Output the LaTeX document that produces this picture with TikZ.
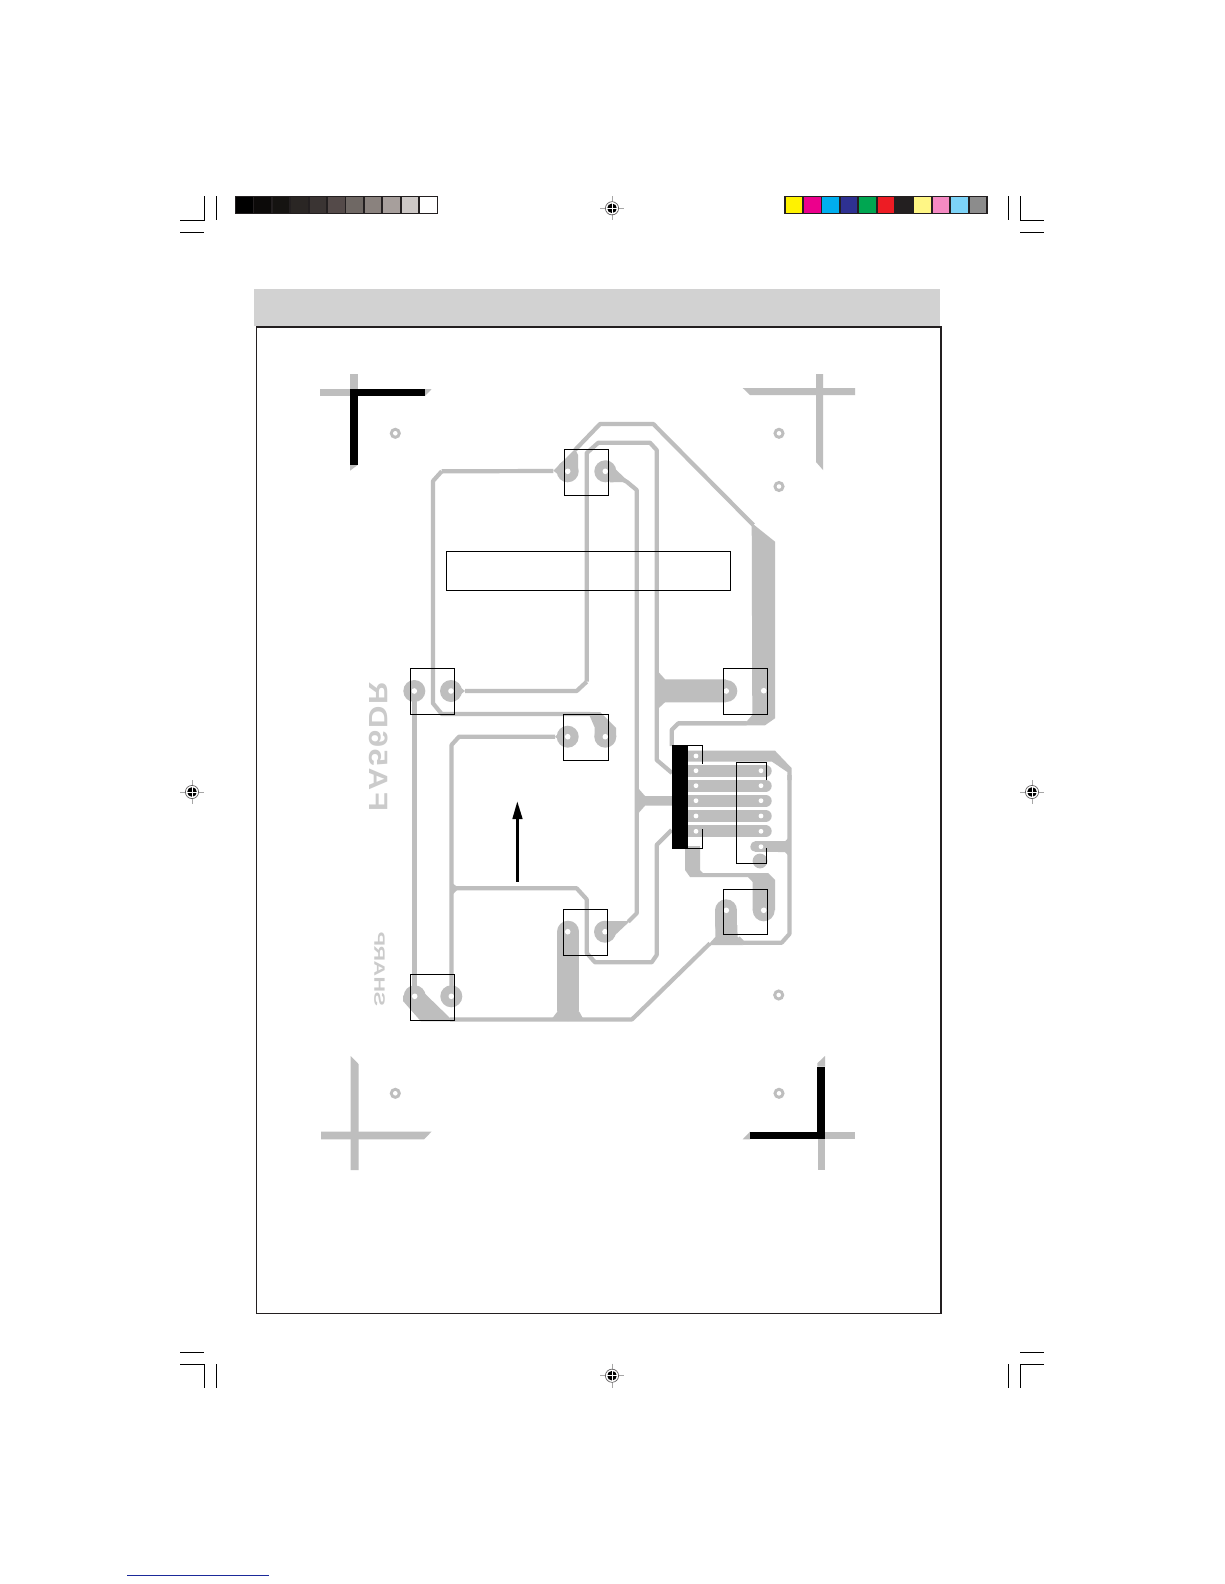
\documentclass[tikz,border=0pt]{standalone}
\usepackage{graphicx}
\usepackage{fontspec}
\setmainfont{Liberation Sans}
\definecolor{pcb}{HTML}{BEBEBE}
\definecolor{pcbtext}{HTML}{CBCBCB}
\definecolor{inkk}{HTML}{231F20}
\definecolor{bandgrey}{HTML}{D2D2D2}
\definecolor{linkblue}{HTML}{1B2A9A}
\tikzset{
  track/.style={draw=pcb,line width=4.2pt,line join=round,line cap=butt},
  fat/.style={draw=pcb,line width=#1,line cap=round},
  outline/.style={draw=black,line width=1pt},
  cropm/.style={draw=black,line width=0.9pt}
}
\newcommand{\regmark}[2]{%
  \draw[gray!70,line width=1pt] (#1-12,#2)--(#1+12,#2) (#1,#2-12)--(#1,#2+12);
  \draw[inkk!70,line width=0.7pt] (#1,#2) circle (6.6pt);
  \fill[black] (#1,#2) circle (4.8pt);
  \draw[white,line width=1pt] (#1-6,#2)--(#1+6,#2) (#1,#2-6)--(#1,#2+6);
}
\newcommand{\padat}[3]{\fill[pcb] (#1,#2) circle (#3pt);}
\newcommand{\mounth}[2]{\fill[pcb] (#1,#2) circle (5.6pt);\fill[white] (#1,#2) circle (2.3pt);}
\begin{document}
\begin{tikzpicture}[x=1pt,y=-1pt]
\useasboundingbox (0,0) rectangle (1224,1584);
\fill[white] (0,0) rectangle (1224,1584);

% header band and frame
\fill[bandgrey] (254,289) rectangle (940,326);
\draw[inkk,line width=1.4pt] (256.3,326.5) -- (941,326.5) -- (941,1313.7) -- (256.3,1313.7) -- cycle;
\draw[inkk,line width=2pt] (256,326.7) -- (942,326.7);

% crop marks
\draw[cropm] (180,220.3)--(204.3,220.3)--(204.3,196);
\draw[cropm] (180,232.3)--(204.3,232.3);
\draw[cropm] (216.7,196)--(216.7,220);
\draw[cropm] (1008.3,196)--(1008.3,220);
\draw[cropm] (1020.3,196)--(1020.3,220.3)--(1044,220.3);
\draw[cropm] (1020.3,232.3)--(1044,232.3);
\draw[cropm] (180,1352.3)--(204,1352.3);
\draw[cropm] (180,1364)--(204.3,1364)--(204.3,1388);
\draw[cropm] (216.7,1364)--(216.7,1388);
\draw[cropm] (1008.3,1364)--(1008.3,1388);
\draw[cropm] (1044,1364)--(1020.3,1364)--(1020.3,1388);
\draw[cropm] (1020.3,1352.3)--(1044,1352.3);

% registration targets
\regmark{612}{208.3}
\regmark{612}{1375.7}
\regmark{192}{792}
\regmark{1032}{792}

% grey scale strip
\fill[inkk] (235,196) rectangle (437.7,214);
\foreach \c [count=\i from 0] in {000000,0C0A09,151311,2A2624,3A3433,544A49,6F6864,8A827E,A79F9C,CDC8C6,FFFFFF}{
  \definecolor{swatchc}{HTML}{\c}
  \fill[swatchc] ({236+\i*18.4},197.2) rectangle ({236+\i*18.4+16.6},212.8);
}
% colour strip
\fill[inkk] (784,196) rectangle (988,214);
\foreach \c [count=\i from 0] in {FFF200,EC008C,00AEEF,2E3192,00A651,ED1C24,231F20,FFF685,F58AC3,7DD3F7,8C8C8C}{
  \definecolor{swatchc}{HTML}{\c}
  \fill[swatchc] ({785.6+\i*18.4},197.2) rectangle ({785.6+\i*18.4+16.6},212.8);
}

% corner marks, grey parts
\fill[pcb] (350,374) rectangle (357.7,389);
\fill[pcb] (320,388.7) rectangle (350,395.5);
\fill[pcb] (425,389)--(431.7,389)--(425,396)--cycle;
\fill[pcb] (350,465)--(357.7,465)--(350,470.7)--cycle;
\fill[pcb] (742.7,388)--(855,388)--(855,395)--(750,395)--cycle;
\fill[pcb] (816,374)--(823,374)--(823,470)--(816,462)--cycle;
\fill[pcb] (350.6,1056)--(358.5,1064)--(358.5,1170)--(350.6,1170)--cycle;
\fill[pcb] (321,1131.7)--(431.5,1131.7)--(424,1139.3)--(321,1139.3)--cycle;
\fill[pcb] (825,1131.7) rectangle (855,1139.3);
\fill[pcb] (817.5,1139.3) rectangle (825,1170);
\fill[pcb] (817.3,1063.3)--(825,1056)--(825,1066.7)--(817.3,1066.7)--cycle;
\fill[pcb] (742.7,1139.3)--(750,1131.7)--(750,1139.3)--cycle;
% corner marks, black parts
\fill[black] (350,389) rectangle (425,396);
\fill[black] (350,389) rectangle (357.7,465);
\fill[black] (750,1132.3) rectangle (825,1139.3);
\fill[black] (817.3,1066.7) rectangle (825,1139.3);

% mounting holes
\mounth{395.3}{433.3}
\mounth{779}{433.3}
\mounth{779}{486.5}
\mounth{778.7}{995}
\mounth{395.3}{1093.3}
\mounth{779}{1093.3}

% mirrored lettering
\begin{scope}[shift={(379,746.7)},cm={0,1,1,0,(0,0)},transform shape]
  \node[inner sep=0pt,text=pcbtext] (labelfa) at (0,0) {\resizebox{130pt}{18.5pt}{\bfseries F\kern0.06em A\kern0.06em 5\kern0.06em 6\kern0.06em D\kern0.06em R}};
\end{scope}
\begin{scope}[shift={(379.5,969.2)},cm={0,1,1,0,(0,0)},transform shape]
  \node[inner sep=0pt,text=pcbtext] (labelsh) at (0,0) {\resizebox{75pt}{10.5pt}{\bfseries SHARP}};
\end{scope}

% ---- copper tracks ----
% outer top track and thick right band
\draw[track] (575,450)--(600,424)--(653.3,424)--(753.3,525);
\fill[pcb] (751.7,523)--(775,541.7)--(775,718.3)--(765,725.3)--(678,725.3)--(678,721.4)--(746.7,721.4)--(752.3,715)--cycle;
\draw[track] (441.7,471.3)--(433,481)--(433,703.3)--(441.7,714)--(590,714);
\draw[track] (553.3,471)--(441.7,471.3);
\draw[track] (746.7,723.3)--(678.3,723.3)--(671.7,730)--(671.7,746);
\fill[pcb] (553.3,470.7)--(575,449)--(578,455)--(578,471)--(567.7,482)--cycle;
\fill[pcb] (588,712)--(600,712)--(616,728)--(616,737)--(594.5,737)--(594.5,727)--cycle;
% inner top track and band to pad
\draw[track] (586.7,681.7)--(586.7,453)--(598.3,442.7)--(650,442.7)--(656.7,450)--(656.7,760)--(672,773);
\draw[track] (586.7,681.7)--(576.7,691)--(465,691);
\fill[pcb] (656.7,670)--(665,679.3)--(726,679.3)--(726,702.3)--(665,702.3)--(656.7,710)--cycle;
% central track
\draw[track] (605.3,471.3)--(626.7,481.7)--(636.7,490)--(636.7,913.3)--(628.3,921.7);
\fill[pcb] (606,460.3)--(629,482)--(610,482.3)--cycle;
\fill[pcb] (608,921)--(630,921)--(608,941.7)--cycle;
\fill[pcb] (638,788)--(645,796)--(673,796)--(673,805.7)--(645,805.7)--(638,813.7)--cycle;
% left verticals
\draw[track] (414.5,691)--(414.5,996);
\draw[track] (451.5,996)--(451.5,745)--(459,736.7)--(555,736.7);
\fill[pcb] (451,882)--(459,888.3)--(451,896)--cycle;
\draw[track] (671.7,830)--(656.7,845)--(656.7,955)--(651.7,962.3)--(595,962.3)--(586.7,953)--(586.7,899.3)--(576.7,888.3)--(451.5,888.3);
% bottom track and right return
\draw[track] (450,1019.4)--(632,1019.4)--(710,943.3);
\draw[track] (789.4,775)--(789.4,934)--(781.7,942.7)--(743,942.7)--(738,938);
\fill[pcb] (680,750.7)--(775,750.7)--(791.5,768)--(791.5,780)--(787.3,780)--(787.3,772)--(772,761.7)--(680,761.7)--cycle;
\fill[pcb] (708,945)--(715.3,937)--(715.3,925)--(737.3,925)--(737.6,937)--(743,945)--cycle;
\fill[pcb] (551.7,1019)--(557.3,1011.7)--(579.3,1011.7)--(583.3,1019)--cycle;
% teardrops
\fill[pcb] (451,680)--(465,691)--(451,702)--cycle;
\fill[pcb] (567.7,726)--(555,736.7)--(567.7,747.4)--cycle;
% long pads
\draw[fat=22pt] (568.3,931.7)--(568.3,1010);
\draw[fat=22pt] (726.3,910.3)--(726.3,925);
\fill[pcb] (403,996)--(415,984)--(453.5,1021.4)--(421,1021.4)--(403,1001)--cycle;
% connector fingers
\foreach \y in {770.7,785.7,800.7,816,831.3}{
  \draw[fat=12pt] (684,\y)--(765.7,\y);
}
\draw[fat=10.8pt] (755.7,846.7)--(785,846.7);
\fill[pcb] (778,841.3)--(785,841.3)--(790.5,836)--(790.5,857.5)--(785,852.1)--(778,852.1)--cycle;
\padat{760}{861}{7.4}
% lower connector stem
\fill[pcb] (685,846)--(700,846)--(700,870)--(703,873)--(768,873)--(775,880)--(775,910)--(752.7,910)--(752.7,882)--(748,877)--(690,877)--(685,870)--cycle;
% round pads
\foreach \x/\y in {567.7/471.3,605.3/471.3,414.3/691,451/691,567.7/736.7,605.3/736.7,414.7/996.3,451.3/996.3,605/931.7,726.3/691,763.7/910.3}{
  \padat{\x}{\y}{11}
}
% drill holes
\foreach \x/\y in {567.7/471.3,605.3/471.3,414.3/691,451/691,567.7/736.7,605.3/736.7,414.7/996.3,451.3/996.3,567.7/931.7,605/931.7,726.3/691,763.7/690.7,726.3/910.3,763.7/910.3}{
  \fill[white] (\x,\y) circle (2.8pt);
}
\foreach \y in {756,770.7,785.7,800.7,816,831.3}{\fill[white] (696,\y) circle (2.4pt);}
\foreach \y in {770.7,785.7,800.7,816,831.3,846.7}{\fill[white] (761,\y) circle (2.4pt);}

% black connector bar
\fill[black] (672,745) rectangle (688,848.7);
% arrow
\coordinate (arrowtail) at (517.3,881.7);
\coordinate (arrowbase) at (517.3,818);
\coordinate (arrowtip) at (517.3,801.7);
\draw[black,line width=3.5pt] (arrowtail)--(arrowbase);
\fill[black] (arrowtip)--(522.7,819)--(512.3,819)--cycle;

% component outlines
\draw[outline] (564.3,449.3) rectangle (608.7,495.7);
\draw[outline] (446.3,551.3) rectangle (730.3,590);
\draw[outline] (410.3,668.3) rectangle (454.3,714.3);
\draw[outline] (563.3,714.3) rectangle (608.3,760.3);
\draw[outline] (563.3,909.3) rectangle (607.7,955.7);
\draw[outline] (410.3,974.3) rectangle (454.7,1020.3);
\draw[outline] (723.3,668.3) rectangle (767.3,714.3);
\draw[outline] (723.3,889.3) rectangle (767.7,934.3);
\draw[outline] (688,745.7)--(702.3,745.7)--(702.3,764.3);
\draw[outline] (702.3,829.3)--(702.3,848)--(688,848);
\draw[outline] (766.3,780)--(766.3,762.3)--(736.3,762.3)--(736.3,863.3)--(766.3,863.3)--(766.3,848);

% link underline at page foot
\draw[linkblue,line width=1.2pt] (127,1575.3)--(268.7,1575.3);
\end{tikzpicture}
\end{document}
